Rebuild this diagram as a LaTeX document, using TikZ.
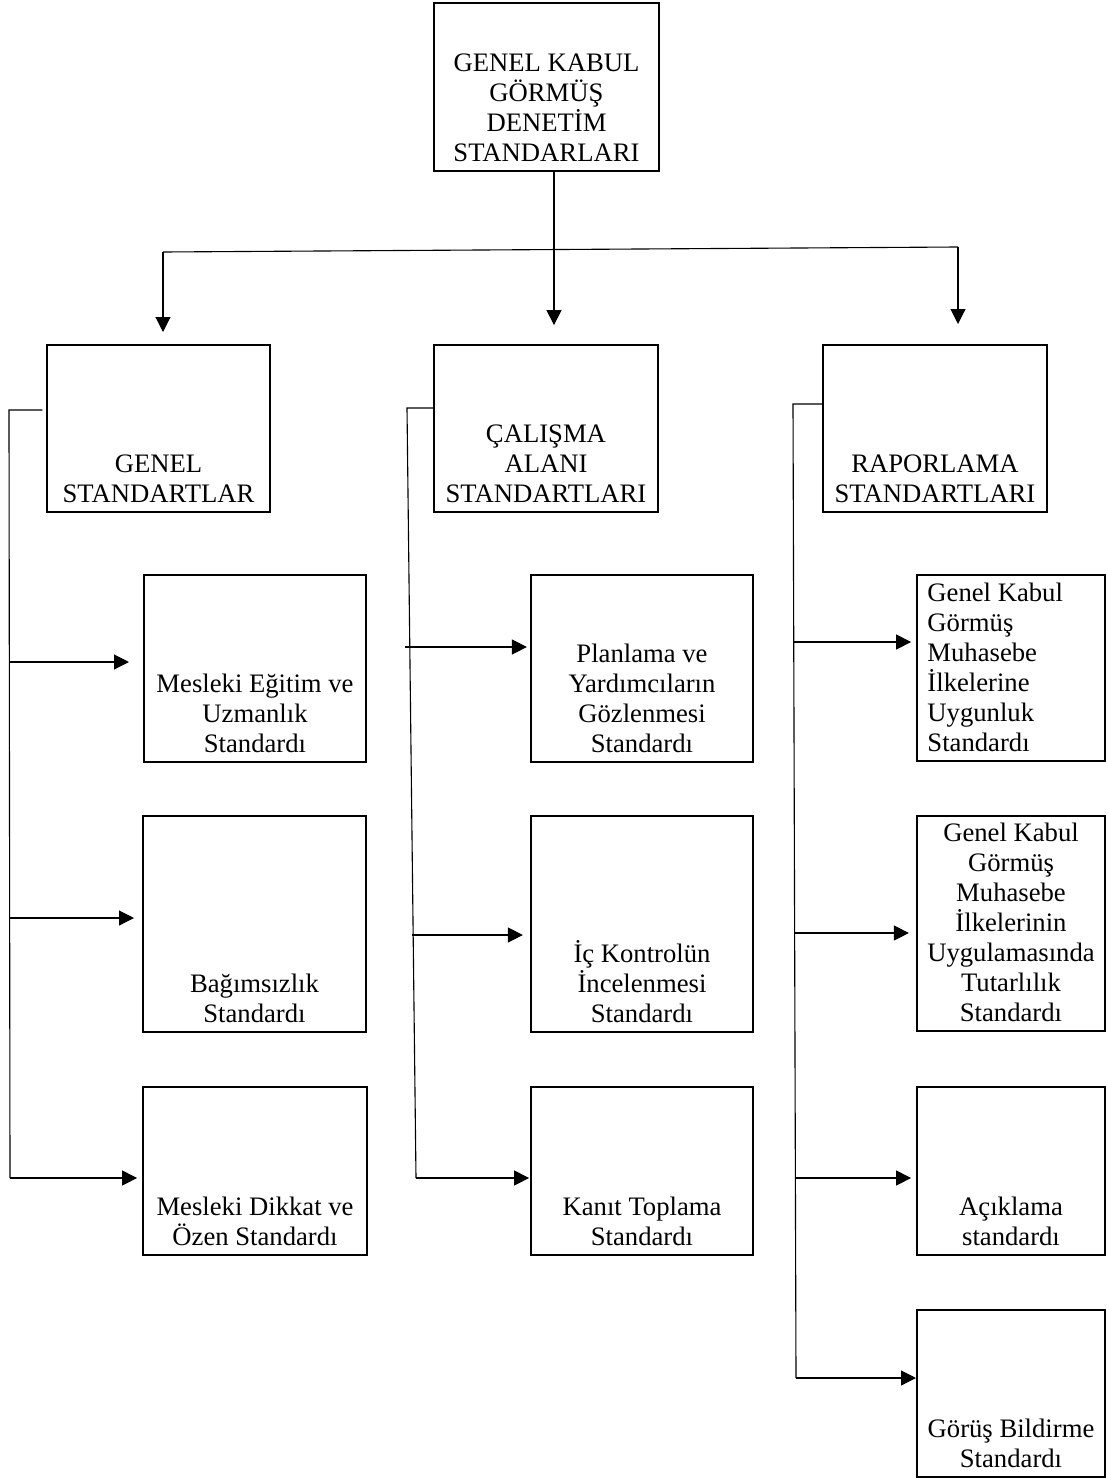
\documentclass[tikz,border=0pt]{standalone}
\usepackage{fontspec}
\setmainfont{Liberation Serif}
\usetikzlibrary{arrows.meta}
\begin{document}
\begin{tikzpicture}[x=0.45pt,y=-0.45pt,
  box/.style={draw, line width=0.9pt, rectangle, inner sep=0pt},
  sz/.style 2 args={minimum width=#1*0.45pt, minimum height=#2*0.45pt},
  txt/.style={align=center, inner sep=0pt, anchor=south, yshift=0.4pt,
    font=\fontsize{12pt}{13.5pt}\selectfont},
  link/.style={line width=0.5pt},
  arr/.style={link, -{Triangle[length=6.75pt,width=6.75pt]}}]
\useasboundingbox (0,0) rectangle (1109,1478);

% ---- boxes ----
\node[box, sz={225}{168}] (top) at (546.5,87) {};
\node[box, sz={223}{167}] (gen) at (158.5,428.5) {};
\node[box, sz={224}{167}] (cal) at (546,428.5) {};
\node[box, sz={224}{167}] (rap) at (935,428.5) {};

\node[box, sz={222}{187}] (L1) at (255,668.5) {};
\node[box, sz={223}{216}] (L2) at (254.5,924) {};
\node[box, sz={224}{168}] (L3) at (255,1171) {};

\node[box, sz={222}{187}] (M1) at (642,668.5) {};
\node[box, sz={222}{216}] (M2) at (642,924) {};
\node[box, sz={222}{168}] (M3) at (642,1171) {};

\node[box, sz={188}{186}] (R1) at (1011,668) {};
\node[box, sz={188}{215}] (R2) at (1011,923.5) {};
\node[box, sz={188}{168}] (R3) at (1011,1171) {};
\node[box, sz={188}{167}] (R4) at (1011,1393.5) {};

% ---- texts ----
\node[txt] (ttop) at (top.south) {GENEL KABUL\\GÖRMÜŞ\\DENETİM\\STANDARLARI\strut};
\node[txt] (tgen) at (gen.south) {GENEL\\STANDARTLAR\strut};
\node[txt] (tcal) at (cal.south) {ÇALIŞMA\\ALANI\\STANDARTLARI\strut};
\node[txt] (trap) at (rap.south) {RAPORLAMA\\STANDARTLARI\strut};

\node[txt] (tL1) at (L1.south) {Mesleki Eğitim ve\\Uzmanlık\\Standardı\strut};
\node[txt] (tL2) at (L2.south) {Bağımsızlık\\Standardı\strut};
\node[txt] (tL3) at (L3.south) {Mesleki Dikkat ve\\Özen Standardı\strut};

\node[txt] (tM1) at (M1.south) {Planlama ve\\Yardımcıların\\Gözlenmesi\\Standardı\strut};
\node[txt] (tM2) at (M2.south) {İç Kontrolün\\İncelenmesi\\Standardı\strut};
\node[txt] (tM3) at (M3.south) {Kanıt Toplama\\Standardı\strut};

\node[txt, align=left, anchor=south west, xshift=4.95pt] (tR1) at (R1.south west)
  {Genel Kabul\\Görmüş\\Muhasebe\\İlkelerine\\Uygunluk\\Standardı\strut};
\node[txt] (tR2) at (R2.south) {Genel Kabul\\Görmüş\\Muhasebe\\İlkelerinin\\Uygulamasında\\Tutarlılık\\Standardı\strut};
\node[txt] (tR3) at (R3.south) {Açıklama\\standardı\strut};
\node[txt] (tR4) at (R4.south) {Görüş Bildirme\\Standardı\strut};

% ---- top level fan-out ----
\coordinate (j) at (554,250);
\coordinate (fl) at (163,252);
\coordinate (fr) at (958,247);
\draw[link] (top.south -| j) -- (j);
\draw[link] (fl) -- (fr);
\draw[arr, shorten >=5.4pt] (fl) -- (fl |- gen.north);
\draw[arr, shorten >=8.5pt] (j) -- (j |- cal.north);
\draw[arr, shorten >=9pt] (fr) -- (fr |- rap.north);

% ---- left branch ----
\coordinate (gl) at (9,410);
\coordinate (gb) at (10,1178);
\draw[link] ([xshift=-1.6pt]gen.west |- gl) -- (gl) -- (gb);
\coordinate (a1) at (9,662);
\coordinate (a2) at (9,918);
\draw[arr, shorten >=6.3pt] (a1) -- (a1 -| L1.west);
\draw[arr, shorten >=3.6pt] (a2) -- (a2 -| L2.west);
\draw[arr, shorten >=2.2pt] (gb) -- (gb -| L3.west);

% ---- middle branch ----
\coordinate (cl) at (407,408);
\coordinate (cb) at (416,1178);
\draw[link] (cal.west |- cl) -- (cl) -- (cb);
\coordinate (b1) at (405,647);
\coordinate (b2) at (412,935);
\draw[arr, shorten >=1.4pt] (b1) -- (b1 -| M1.west);
\draw[arr, shorten >=3.2pt] (b2) -- (b2 -| M2.west);
\draw[arr, shorten >=0.4pt] (cb) -- (cb -| M3.west);

% ---- right branch ----
\coordinate (rl) at (793,404);
\coordinate (rb) at (796,1378);
\draw[link] (rap.west |- rl) -- (rl) -- (rb);
\coordinate (c1) at (794,642);
\coordinate (c2) at (795,933);
\coordinate (c3) at (795,1178);
\draw[arr, shorten >=2.2pt] (c1) -- (c1 -| R1.west);
\draw[arr, shorten >=3.2pt] (c2) -- (c2 -| R2.west);
\draw[arr, shorten >=2.2pt] (c3) -- (c3 -| R3.west);
\draw[arr] (rb) -- (rb -| R4.west);
\end{tikzpicture}
\end{document}
